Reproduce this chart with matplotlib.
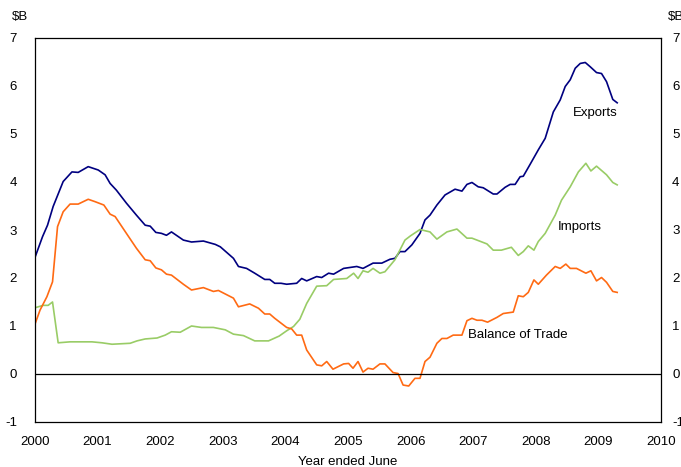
import matplotlib
matplotlib.use("Agg")
import matplotlib.pyplot as plt

# values ($B, year ended June)
exp_x = [2000.0, 2000.12, 2000.2, 2000.29, 2000.45, 2000.59, 2000.69, 2000.85, 2001.01, 2001.12,
         2001.2, 2001.3, 2001.46, 2001.62, 2001.76, 2001.84, 2001.93, 2002.02, 2002.1, 2002.18,
         2002.37, 2002.5, 2002.69, 2002.88, 2002.96, 2003.17, 2003.25, 2003.38, 2003.51, 2003.67,
         2003.75, 2003.83, 2003.93, 2004.02, 2004.18, 2004.26, 2004.34, 2004.5, 2004.58, 2004.69,
         2004.77, 2004.93, 2005.14, 2005.24, 2005.4, 2005.54, 2005.67, 2005.75, 2005.83, 2005.91,
         2006.02, 2006.15, 2006.23, 2006.31, 2006.42, 2006.55, 2006.71, 2006.82, 2006.9, 2006.98,
         2007.08, 2007.16, 2007.32, 2007.38, 2007.51, 2007.59, 2007.67, 2007.75, 2007.8, 2007.91,
         2008.04, 2008.15, 2008.28, 2008.39, 2008.47, 2008.55, 2008.63, 2008.71, 2008.79, 2008.87,
         2008.97, 2009.05, 2009.13, 2009.23, 2009.3]
exports = [2.43, 2.86, 3.10, 3.49, 4.01, 4.21, 4.20, 4.32, 4.25, 4.15,
           3.97, 3.83, 3.56, 3.31, 3.10, 3.08, 2.95, 2.93, 2.89, 2.96,
           2.79, 2.75, 2.77, 2.70, 2.65, 2.41, 2.24, 2.20, 2.10, 1.97,
           1.97, 1.89, 1.89, 1.87, 1.89, 1.99, 1.94, 2.03, 2.01, 2.10,
           2.08, 2.20, 2.24, 2.20, 2.31, 2.31, 2.39, 2.41, 2.55, 2.55,
           2.69, 2.93, 3.21, 3.31, 3.52, 3.73, 3.85, 3.81, 3.95, 3.99,
           3.90, 3.88, 3.75, 3.75, 3.89, 3.95, 3.95, 4.11, 4.12, 4.37,
           4.67, 4.91, 5.46, 5.71, 5.99, 6.13, 6.37, 6.47, 6.49, 6.40,
           6.28, 6.26, 6.09, 5.72, 5.65]

imp_x = [2000.0, 2000.13, 2000.21, 2000.28, 2000.37, 2000.56, 2000.91, 2001.07, 2001.23, 2001.52,
         2001.63, 2001.76, 2001.95, 2002.08, 2002.18, 2002.32, 2002.5, 2002.66, 2002.85, 2003.04,
         2003.17, 2003.33, 2003.51, 2003.73, 2003.9, 2004.02, 2004.13, 2004.23, 2004.34, 2004.5,
         2004.66, 2004.77, 2004.98, 2005.09, 2005.16, 2005.24, 2005.32, 2005.4, 2005.51, 2005.59,
         2005.75, 2005.91, 2006.0, 2006.15, 2006.31, 2006.42, 2006.58, 2006.74, 2006.9, 2006.98,
         2007.22, 2007.32, 2007.45, 2007.61, 2007.72, 2007.8, 2007.88, 2007.97, 2008.04, 2008.15,
         2008.31, 2008.41, 2008.55, 2008.68, 2008.8, 2008.88, 2008.97, 2009.13, 2009.23, 2009.3]
imports = [1.38, 1.43, 1.43, 1.50, 0.65, 0.67, 0.67, 0.65, 0.62, 0.64,
           0.69, 0.73, 0.75, 0.81, 0.88, 0.87, 1.00, 0.97, 0.97, 0.92,
           0.83, 0.80, 0.69, 0.69, 0.79, 0.90, 0.99, 1.14, 1.47, 1.83,
           1.84, 1.97, 1.99, 2.10, 1.99, 2.15, 2.12, 2.20, 2.10, 2.13,
           2.38, 2.79, 2.88, 3.01, 2.96, 2.81, 2.96, 3.02, 2.83, 2.83,
           2.71, 2.58, 2.58, 2.64, 2.47, 2.55, 2.67, 2.58, 2.76, 2.93,
           3.31, 3.62, 3.90, 4.21, 4.39, 4.23, 4.33, 4.15, 3.99, 3.94]

bal_x = [2000.0, 2000.08, 2000.19, 2000.28, 2000.36, 2000.45, 2000.56, 2000.69, 2000.85, 2000.96,
         2001.1, 2001.2, 2001.28, 2001.46, 2001.62, 2001.76, 2001.84, 2001.93, 2002.02, 2002.1,
         2002.18, 2002.37, 2002.5, 2002.69, 2002.85, 2002.93, 2003.17, 2003.25, 2003.43, 2003.57,
         2003.67, 2003.75, 2003.83, 2003.93, 2004.02, 2004.1, 2004.18, 2004.26, 2004.34, 2004.5,
         2004.58, 2004.66, 2004.76, 2004.93, 2005.01, 2005.08, 2005.16, 2005.24, 2005.32, 2005.4,
         2005.51, 2005.59, 2005.72, 2005.8, 2005.88, 2005.97, 2006.07, 2006.15, 2006.23, 2006.31,
         2006.42, 2006.5, 2006.58, 2006.68, 2006.82, 2006.9, 2006.98, 2007.06, 2007.14, 2007.23,
         2007.38, 2007.48, 2007.64, 2007.72, 2007.8, 2007.88, 2007.97, 2008.04, 2008.17, 2008.31,
         2008.39, 2008.48, 2008.55, 2008.65, 2008.8, 2008.88, 2008.97, 2009.05, 2009.13, 2009.23,
         2009.3]
balance = [1.04, 1.33, 1.61, 1.92, 3.07, 3.38, 3.54, 3.54, 3.64, 3.59,
           3.52, 3.33, 3.28, 2.93, 2.62, 2.38, 2.36, 2.21, 2.17, 2.08,
           2.06, 1.87, 1.75, 1.80, 1.72, 1.74, 1.58, 1.40, 1.46, 1.37,
           1.25, 1.25, 1.16, 1.06, 0.97, 0.94, 0.81, 0.81, 0.50, 0.19,
           0.17, 0.26, 0.10, 0.21, 0.22, 0.12, 0.26, 0.04, 0.12, 0.10,
           0.21, 0.21, 0.03, 0.01, -0.23, -0.25, -0.09, -0.09, 0.26, 0.35,
           0.64, 0.74, 0.74, 0.81, 0.81, 1.11, 1.16, 1.12, 1.12, 1.08,
           1.18, 1.26, 1.29, 1.63, 1.61, 1.70, 1.96, 1.87, 2.06, 2.24,
           2.20, 2.29, 2.20, 2.20, 2.10, 2.15, 1.94, 2.01, 1.91, 1.72,
           1.70]

years = list(range(2000, 2011))
yticks = list(range(-1, 8))

plt.rcParams['font.family'] = ['Liberation Sans', 'DejaVu Sans']
plt.rcParams['axes.unicode_minus'] = False

fig = plt.figure(figsize=(6.81, 4.67), dpi=100)
ax = fig.add_axes([35/681, 1-422/467, 626/681, 384/467])

ax.plot(exp_x, exports, color='#000080', lw=1.2)
ax.plot(imp_x, imports, color='#99cc66', lw=1.2)
ax.plot(bal_x, balance, color='#ff6a13', lw=1.2)
ax.axhline(0, color='black', lw=0.9)

ax.set_xlim(2000, 2010)
ax.set_ylim(-1, 7)
ax.set_xticks(years)
ax.set_yticks(yticks)
ax.tick_params(axis='both', length=0, labelsize=9.5)
ax.tick_params(axis='y', pad=13)
ax.tick_params(axis='x', pad=10)
for sp in ax.spines.values():
    sp.set_color('black')
    sp.set_linewidth(0.9)

# right hand scale, same values, closer to the spine
ax2 = ax.twinx()
ax2.set_ylim(-1, 7)
ax2.set_yticks(yticks)
ax2.tick_params(axis='y', length=0, labelsize=9.5, pad=8)
for sp in ax2.spines.values():
    sp.set_visible(False)

ax.set_xlabel('Year ended June', fontsize=9.5, labelpad=6)

fig.text(20/681, 1-17/467, '$B', fontsize=9.5, ha='center', va='center')
fig.text(668/681, 1-17/467, '$B', fontsize=9.5, ha='left', va='center')

ax.text(2008.59, 5.44, 'Exports', fontsize=9.5, va='center')
ax.text(2008.35, 3.06, 'Imports', fontsize=9.5, va='center')
ax.text(2006.92, 0.81, 'Balance of Trade', fontsize=9.5, va='center')

fig.savefig('out.png', dpi=100)
